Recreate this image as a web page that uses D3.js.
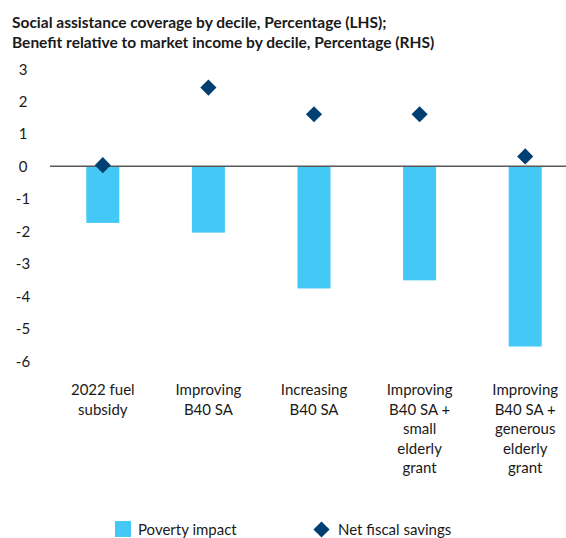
<!DOCTYPE html>
<html>
<head>
<meta charset="utf-8">
<script src="https://cdn.jsdelivr.net/npm/d3@7"></script>
<style>
  body { margin: 0; background: #fff; }
  svg { display: block; font-family: Lato, "Noto Sans", sans-serif; }
</style>
</head>
<body>
<div id="chart"></div>
<script>
const categories = [
  ["2022 fuel", "subsidy"],
  ["Improving", "B40 SA"],
  ["Increasing", "B40 SA"],
  ["Improving", "B40 SA +", "small", "elderly", "grant"],
  ["Improving", "B40 SA +", "generous", "elderly", "grant"]
];
const povertyImpact = [-1.75, -2.05, -3.77, -3.52, -5.56];
const netFiscalSavings = [0.03, 2.42, 1.6, 1.6, 0.3];
const yTicks = [3, 2, 1, 0, -1, -2, -3, -4, -5, -6];
const titleLines = [
  "Social assistance coverage by decile, Percentage (LHS);",
  "Benefit relative to market income by decile, Percentage (RHS)"
];
const legendItems = ["Poverty impact", "Net fiscal savings"];

const W = 566, H = 538;
const barColor = "#44c8f5", diamondColor = "#003f72", textColor = "#1a1a1a";

const svg = d3.select("#chart").append("svg").attr("width", W).attr("height", H);

// Title
svg.append("g").selectAll("text").data(titleLines).join("text")
  .attr("x", 12).attr("y", (d, i) => 28 + i * 19.5)
  .attr("font-size", 15.5).attr("font-weight", 700).attr("fill", textColor)
  .text(d => d);

const x = d3.scaleBand().domain(d3.range(categories.length))
  .range([50, 578]).paddingInner(0.6875).paddingOuter(0.34375);
const y = d3.scaleLinear().domain([-6, 3]).range([360.8, 68.8]);

// Y axis labels
const yAxis = d3.axisLeft(y).tickValues(yTicks).tickSize(0).tickPadding(0).tickFormat(d => String(d));
const gy = svg.append("g").attr("transform", "translate(23,0)").call(yAxis);
gy.select(".domain").remove();
gy.selectAll("text").attr("text-anchor", "middle").attr("font-size", 15)
  .attr("font-family", "Lato, 'Noto Sans', sans-serif").attr("fill", textColor).attr("dy", "0.35em");

// Bars
svg.append("g").selectAll("rect").data(povertyImpact).join("rect")
  .attr("x", (d, i) => x(i)).attr("width", x.bandwidth())
  .attr("y", d => y(Math.max(0, d))).attr("height", d => Math.abs(y(d) - y(0)))
  .attr("fill", barColor);

// Zero line
svg.append("line").attr("x1", 50).attr("x2", W).attr("y1", y(0)).attr("y2", y(0))
  .attr("stroke", "#595959").attr("stroke-width", 1.5);

// Diamonds
const diamond = d3.symbol().type(d3.symbolSquare).size(130);
svg.append("g").selectAll("path").data(netFiscalSavings).join("path")
  .attr("d", diamond)
  .attr("transform", (d, i) => `translate(${x(i) + x.bandwidth() / 2},${y(d)}) rotate(45)`)
  .attr("fill", diamondColor);

// Category labels
const xl = svg.append("g").selectAll("text").data(categories).join("text")
  .attr("text-anchor", "middle").attr("font-size", 15).attr("fill", textColor)
  .attr("transform", (d, i) => `translate(${x(i) + x.bandwidth() / 2},0)`);
xl.selectAll("tspan").data(d => d).join("tspan")
  .attr("x", 0).attr("y", (d, i) => 395 + i * 19.6).text(d => d);

// Legend
const lg = svg.append("g");
lg.append("rect").attr("x", 115).attr("y", 521).attr("width", 16).attr("height", 16).attr("fill", barColor);
lg.append("text").attr("x", 138).attr("y", 534.5).attr("font-size", 15).attr("fill", textColor).text(legendItems[0]);
lg.append("path").attr("d", diamond).attr("transform", "translate(321.5,529.5) rotate(45)").attr("fill", diamondColor);
lg.append("text").attr("x", 338).attr("y", 534.5).attr("font-size", 15).attr("fill", textColor).text(legendItems[1]);
</script>
</body>
</html>
